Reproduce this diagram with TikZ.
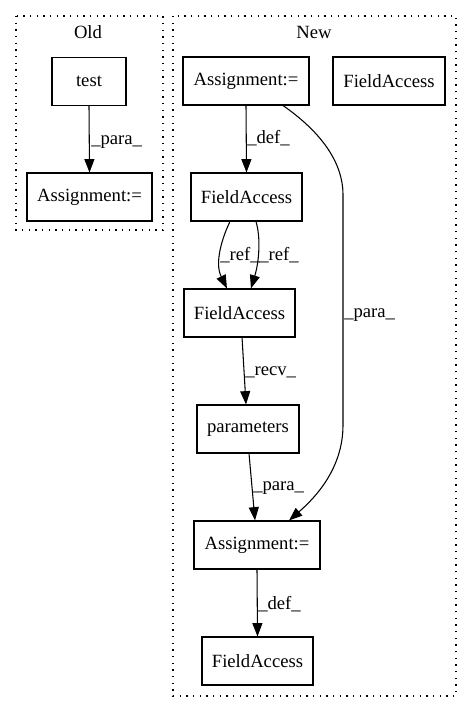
\documentclass[tikz,border=0pt]{standalone}
\usepackage{fontspec}
\setmainfont{Liberation Serif}
\usetikzlibrary{arrows.meta}
\tikzset{
  box/.style={draw, line width=0.8pt, minimum height=36pt, inner sep=0pt, font=\fontsize{14pt}{16pt}\selectfont},
  edge/.style={draw, line width=0.8pt, -{Triangle[length=10pt,width=7.5pt]}},
  lbl/.style={anchor=west, inner sep=0pt, font=\fontsize{14pt}{16pt}\selectfont},
  cluster/.style={draw, line width=0.8pt, dash pattern=on 1pt off 4pt},
  ctitle/.style={inner sep=0pt, font=\fontsize{14pt}{16pt}\selectfont}
}
\begin{document}
\begin{tikzpicture}[x=0.75pt, y=-0.75pt]
\useasboundingbox (0,0) rectangle (472,712);
% clusters
\draw[cluster] (16,16) rectangle (163,230);
\draw[cluster] (173,16) rectangle (456,696);
\node[ctitle] (told) at (88,32) {Old};
\node[ctitle] (tnew) at (314,32) {New};
% nodes
\node[box, minimum width=55.5pt] (test) at (89,81.5) {test};
\node[box, minimum width=93.75pt] (oldA) at (89.5,197) {Assignment:=};
\node[box, minimum width=94.5pt] (a1) at (246,81) {Assignment:=};
\node[box, minimum width=84pt] (fa1) at (389,81) {FieldAccess};
\node[box, minimum width=83.25pt] (fa2) at (246.5,197) {FieldAccess};
\node[box, minimum width=83.25pt] (fa3) at (239.5,313) {FieldAccess};
\node[box, minimum width=76.5pt] (par) at (248,429) {parameters};
\node[box, minimum width=94.5pt] (a3) at (257,545) {Assignment:=};
\node[box, minimum width=83.25pt] (fa4) at (257.5,661) {FieldAccess};
% edges
\draw[edge] (test.south) -- (oldA.north);
\node[lbl] (l1) at (91,142) {\_para\_};
\draw[edge] (a1.south) -- (fa2.north);
\node[lbl] (l2) at (247,138) {\_def\_};
\draw[edge] ([xshift=27.75pt]a1.south) .. controls (318,130) and (343,160) .. (343,195) -- (343,425) .. controls (343,468) and (316,497) .. ([xshift=24pt]a3.north);
\node[lbl] (l3) at (344,315) {\_para\_};
\draw[edge] ([xshift=-12.4pt]fa2.south) .. controls (223,236) and (214,262) .. ([xshift=-9.4pt]fa3.north);
\draw[edge] ([xshift=7.1pt]fa2.south) .. controls (261,238) and (259,262) .. ([xshift=8.6pt]fa3.north);
\node[lbl] (l4) at (220,255) {\_ref\_};
\node[lbl] (l5) at (259,255) {\_ref\_};
\draw[edge] ([xshift=1.9pt]fa3.south) -- ([xshift=-1.5pt]par.north);
\node[lbl] (l6) at (245,372) {\_recv\_};
\draw[edge] ([xshift=0.75pt]par.south) -- ([xshift=-1.5pt]a3.north);
\node[lbl] (l7) at (253,488) {\_para\_};
\draw[edge] (a3.south) -- (fa4.north);
\node[lbl] (l8) at (258,604) {\_def\_};
\end{tikzpicture}
\end{document}
